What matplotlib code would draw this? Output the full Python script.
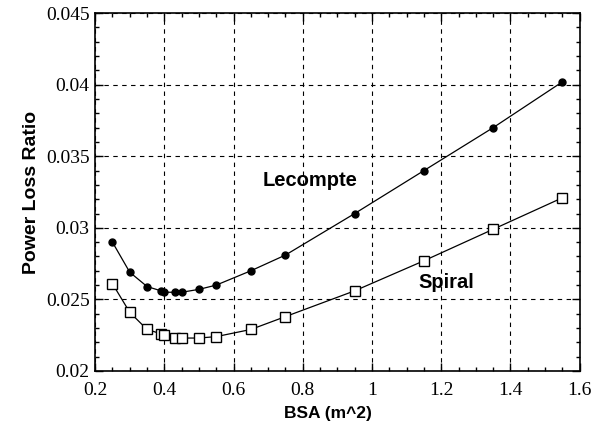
import numpy as np
import matplotlib.pyplot as plt
from matplotlib.ticker import MultipleLocator

# data
bsa = [0.25, 0.30, 0.35, 0.39, 0.40, 0.43, 0.45, 0.50, 0.55, 0.65, 0.75, 0.95, 1.15, 1.35, 1.55]
lecompte = [0.0290, 0.0269, 0.0259, 0.0256, 0.0255, 0.0255, 0.0255, 0.0257, 0.0260,
            0.0270, 0.0281, 0.0310, 0.0340, 0.0370, 0.0402]
spiral = [0.0261, 0.0241, 0.0229, 0.0226, 0.0225, 0.0223, 0.0223, 0.0223, 0.0224,
          0.0229, 0.0238, 0.0256, 0.0277, 0.0299, 0.0321]

fig = plt.figure(figsize=(6.02, 4.23), dpi=100)
ax = fig.add_axes([0.158, 0.123, 0.805, 0.846])

ax.plot(bsa, lecompte, color='black', lw=0.9, marker='o', ms=5, mfc='black', zorder=3)
ax.plot(bsa, spiral, color='black', lw=0.9, marker='s', ms=7, mfc='white', mew=1.0, zorder=3)

ax.set_xlim(0.2, 1.6)
ax.set_ylim(0.02, 0.045)
ax.xaxis.set_major_locator(MultipleLocator(0.2))
ax.xaxis.set_minor_locator(MultipleLocator(0.05))
ax.yaxis.set_major_locator(MultipleLocator(0.005))
ax.yaxis.set_minor_locator(MultipleLocator(0.001))
ax.tick_params(which='both', direction='in', top=True, right=True, width=1)
ax.tick_params(which='major', length=6, labelsize=14)
ax.tick_params(axis='x', which='major', pad=8)
ax.tick_params(axis='y', which='major', pad=4)
ax.tick_params(which='minor', length=3)
ax.xaxis.set_major_formatter(plt.FuncFormatter(lambda v, p: ('%g' % round(v, 3))))
ax.yaxis.set_major_formatter(plt.FuncFormatter(lambda v, p: ('%g' % round(v, 4))))
for lab in ax.get_xticklabels() + ax.get_yticklabels():
    lab.set_family('Liberation Serif')
for s in ax.spines.values():
    s.set_linewidth(1.2)

ax.grid(True, which='major', color='black', ls=(0, (4, 4)), lw=0.8)

ax.set_xlabel('BSA (m^2)', fontsize=12.5, fontweight='bold', family='Liberation Sans')
ax.set_ylabel('Power Loss Ratio', fontsize=14, fontweight='bold', family='Liberation Sans', labelpad=4)
ax.xaxis.set_label_coords(0.48, -0.097)

ax.text(0.821, 0.0333, 'Lecompte', fontsize=14.5, fontweight='bold', family='Liberation Sans',
        ha='center', va='center')
ax.text(1.215, 0.0262, 'Spiral', fontsize=14.5, fontweight='bold', family='Liberation Sans',
        ha='center', va='center')

plt.savefig('out.png', dpi=100)
